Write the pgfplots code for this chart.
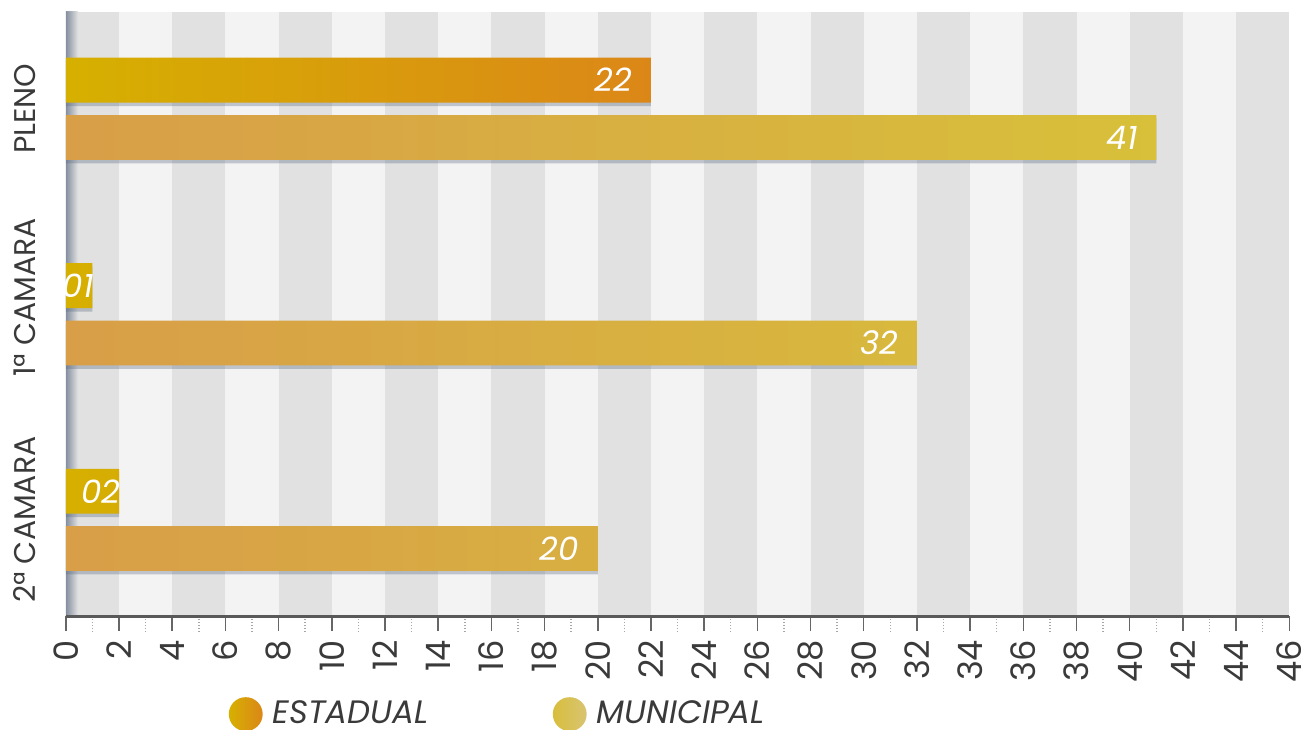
\documentclass[border=0pt]{standalone}
\usepackage{pgfplots}
\pgfplotsset{compat=1.18}
\usepackage{fontspec}
\setmainfont{Poppins}
\definecolor{stripelight}{HTML}{F3F3F3}
\definecolor{stripedark}{HTML}{E1E1E1}
\definecolor{estA}{HTML}{D6B000}
\definecolor{estB}{HTML}{DB8718}
\definecolor{munA}{HTML}{D89E48}
\definecolor{munB}{HTML}{D8C03A}
\definecolor{legMunA}{HTML}{D8BE3C}
\definecolor{legMunB}{HTML}{D8C472}
\definecolor{wallcol}{HTML}{7A8698}
\definecolor{txtgray}{HTML}{3A3A3A}
\definecolor{shadowcol}{HTML}{5C6C84}
\begin{document}
\begin{tikzpicture}
\useasboundingbox (-26.4pt,-45.6pt) rectangle (495.5pt,247.2pt);
\begin{axis}[
  at={(0,0)}, anchor=south west,
  scale only axis, width=490.8pt, height=242.4pt,
  xmin=0, xmax=46, ymin=-0.47, ymax=2.47,
  xbar, bar width=18pt,
  axis on top,
  axis x line*=bottom, axis y line*=left,
  x axis line style={draw=black!65, line width=1.2pt},
  y axis line style={draw=none},
  xtick={0,2,...,46}, minor xtick={1,3,...,45},
  tick align=outside,
  major tick length=6pt, minor tick length=6pt,
  every major x tick/.style={draw=black!60, line width=0.6pt},
  every minor x tick/.style={draw=black!35, densely dotted, line width=0.6pt},
  ytick={0,1.08,2}, yticklabels={2ª CAMARA,1ª CAMARA,PLENO},
  ytick style={draw=none},
  x tick label style={rotate=90, anchor=east, font=\fontsize{13.5}{13.5}\selectfont, text=txtgray, inner ysep=0.5pt},
  y tick label style={rotate=90, anchor=south, font=\fontsize{12}{12}\selectfont, text=txtgray, inner sep=0pt},
  yticklabel shift=5.8pt,
  /pgf/number format/assume math mode=true,
  point meta=explicit symbolic,
  nodes near coords,
  every node near coord/.append style={anchor=east, xshift=-4pt, text=white, font=\itshape\fontsize{13}{13}\selectfont},
  legend columns=2,
  legend style={at={(0.1328,-0.162)}, anchor=west, draw=none, fill=none, inner sep=0pt,
    font=\itshape\fontsize{13}{13}\selectfont, text=txtgray,
    /tikz/every even column/.append style={column sep=46pt},
    nodes={inner xsep=4pt, inner ysep=0pt}},
]
% background stripes
\fill[stripelight] (axis cs:0,-0.47) rectangle (axis cs:46,2.47);
\pgfplotsinvokeforeach{0,4,...,44}{
  \fill[stripedark] (axis cs:#1,-0.47) rectangle (axis cs:{#1+2},2.47);
}
\shade[left color=wallcol, right color=stripedark, fill opacity=0.9] (axis cs:0,-0.47) rectangle (axis cs:0.45,2.47);
% shadows
\addplot[forget plot, draw=none, fill=shadowcol, fill opacity=0.35, bar shift=10pt, nodes near coords={}] coordinates {(22,2) [] (1,1) [] (2,0) []};
\addplot[forget plot, draw=none, fill=shadowcol, fill opacity=0.35, bar shift=-13pt, nodes near coords={}] coordinates {(41,2) [] (32,1) [] (20,0) []};
% bars
\addplot[draw=none, left color=estA, right color=estB, bar shift=11.4pt,
  legend image code/.code={\shade[left color=estA, right color=estB] (6.8pt,0) circle (6.8pt);}]
  coordinates {(22,2) [22] (1,1) [01\kern-8pt] (2,0) [02\kern-8pt]};
\addlegendentry{ESTADUAL}
\addplot[draw=none, left color=munA, right color=munB, bar shift=-11.6pt,
  legend image code/.code={\shade[left color=legMunA, right color=legMunB] (6.8pt,0) circle (6.8pt);}]
  coordinates {(41,2) [41] (32,1) [32] (20,0) [20]};
\addlegendentry{MUNICIPAL}
\end{axis}
\end{tikzpicture}
\end{document}
